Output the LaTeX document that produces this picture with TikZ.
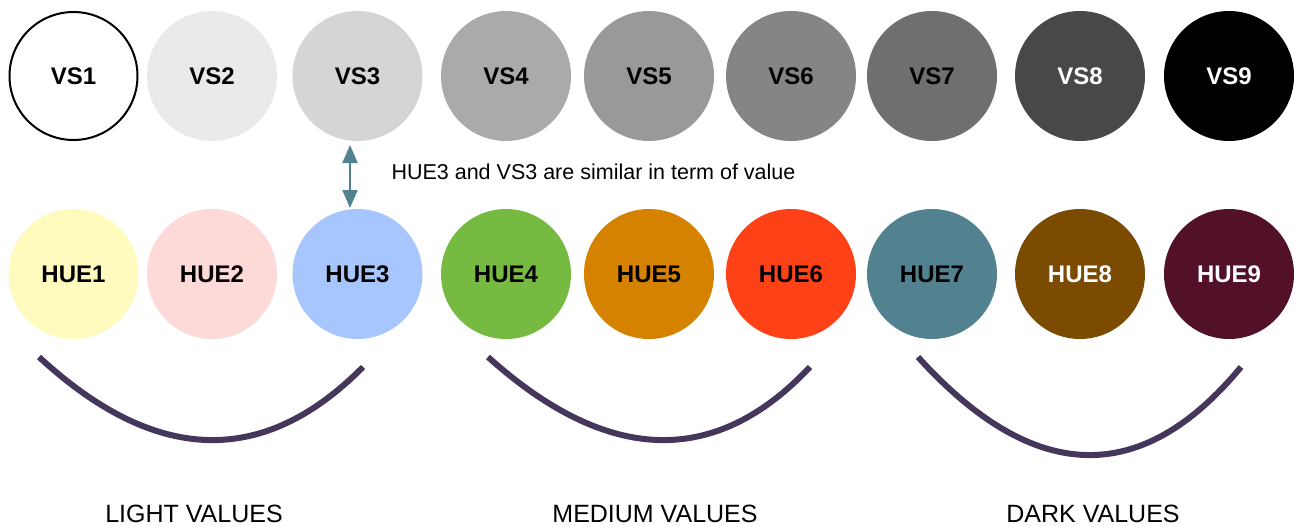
\documentclass[tikz,border=0pt]{standalone}
\usepackage{fontspec}
\setmainfont{Liberation Sans}
\usetikzlibrary{arrows.meta}
\definecolor{vsA}{HTML}{FFFFFF}
\definecolor{vsB}{HTML}{EAEAEA}
\definecolor{vsC}{HTML}{D5D5D5}
\definecolor{vsD}{HTML}{AAAAAA}
\definecolor{vsE}{HTML}{999999}
\definecolor{vsF}{HTML}{858585}
\definecolor{vsG}{HTML}{6F6F6F}
\definecolor{vsH}{HTML}{484848}
\definecolor{vsI}{HTML}{000000}
\definecolor{hueA}{HTML}{FFFBBF}
\definecolor{hueB}{HTML}{FDD9D7}
\definecolor{hueC}{HTML}{A8C6FE}
\definecolor{hueD}{HTML}{77BA41}
\definecolor{hueE}{HTML}{D48200}
\definecolor{hueF}{HTML}{FF4117}
\definecolor{hueG}{HTML}{528190}
\definecolor{hueH}{HTML}{7A4B00}
\definecolor{hueI}{HTML}{531129}
\definecolor{arrowc}{HTML}{528190}
\definecolor{curvec}{HTML}{45365B}
\begin{document}
\begin{tikzpicture}[x=1pt,y=-1pt,
  dot/.style={circle,minimum size=130pt,inner sep=0pt,draw=none,
    font=\fontsize{24}{28}\selectfont\bfseries},
  group/.style={line width=6pt,draw=curvec},
  grouplabel/.style={font=\fontsize{25}{30}\selectfont,text=black,anchor=base},
  note/.style={font=\fontsize{21.5}{26}\selectfont,anchor=base west},
  link/.style={draw=arrowc,line width=2pt,
    {Triangle[length=18pt,width=15pt]}-{Triangle[length=18pt,width=15pt]}}]
\useasboundingbox[fill=white] (0,0) rectangle (1294,527);
% value scale row
\node[dot,draw=black,line width=2pt,fill=vsA,minimum size=128pt] (vs1) at (73.5,76) {VS1};
\node[dot,fill=vsB] (vs2) at (212,76) {VS2};
\node[dot,fill=vsC] (vs3) at (357.5,76) {VS3};
\node[dot,fill=vsD] (vs4) at (506,76) {VS4};
\node[dot,fill=vsE] (vs5) at (649,76) {VS5};
\node[dot,fill=vsF] (vs6) at (791,76) {VS6};
\node[dot,fill=vsG] (vs7) at (932,76) {VS7};
\node[dot,fill=vsH,text=white] (vs8) at (1080,76) {VS8};
\node[dot,fill=vsI,text=white] (vs9) at (1229,76) {VS9};
% hue row
\node[dot,fill=hueA] (h1) at (73.5,274) {HUE1};
\node[dot,fill=hueB] (h2) at (212,274) {HUE2};
\node[dot,fill=hueC] (h3) at (357.5,274) {HUE3};
\node[dot,fill=hueD] (h4) at (506,274) {HUE4};
\node[dot,fill=hueE] (h5) at (649,274) {HUE5};
\node[dot,fill=hueF] (h6) at (791,274) {HUE6};
\node[dot,fill=hueG] (h7) at (932,274) {HUE7};
\node[dot,fill=hueH,text=white] (h8) at (1080,274) {HUE8};
\node[dot,fill=hueI,text=white] (h9) at (1229,274) {HUE9};
% similarity arrow
\coordinate (atop) at (350,145);
\coordinate (abot) at (350,208);
\draw[link] (atop) -- (abot);
\node[note] (sim) at (388,179) {HUE3 and VS3 are similar in term of value};
% group curves
\coordinate (c1a) at (39,357);  \coordinate (c1b) at (363,367);
\coordinate (c2a) at (488,357); \coordinate (c2b) at (810,367);
\coordinate (c3a) at (918,357); \coordinate (c3b) at (1241,367);
\draw[group] (c1a) .. controls (155,464) and (263,468) .. (c1b);
\draw[group] (c2a) .. controls (607,464) and (715,468) .. (c2b);
\draw[group] (c3a) .. controls (1033,484) and (1141,488) .. (c3b);
% group labels
\node[grouplabel] (l1) at (194,522) {LIGHT VALUES};
\node[grouplabel] (l2) at (655,522) {MEDIUM VALUES};
\node[grouplabel] (l3) at (1093,522) {DARK VALUES};
\end{tikzpicture}
\end{document}
